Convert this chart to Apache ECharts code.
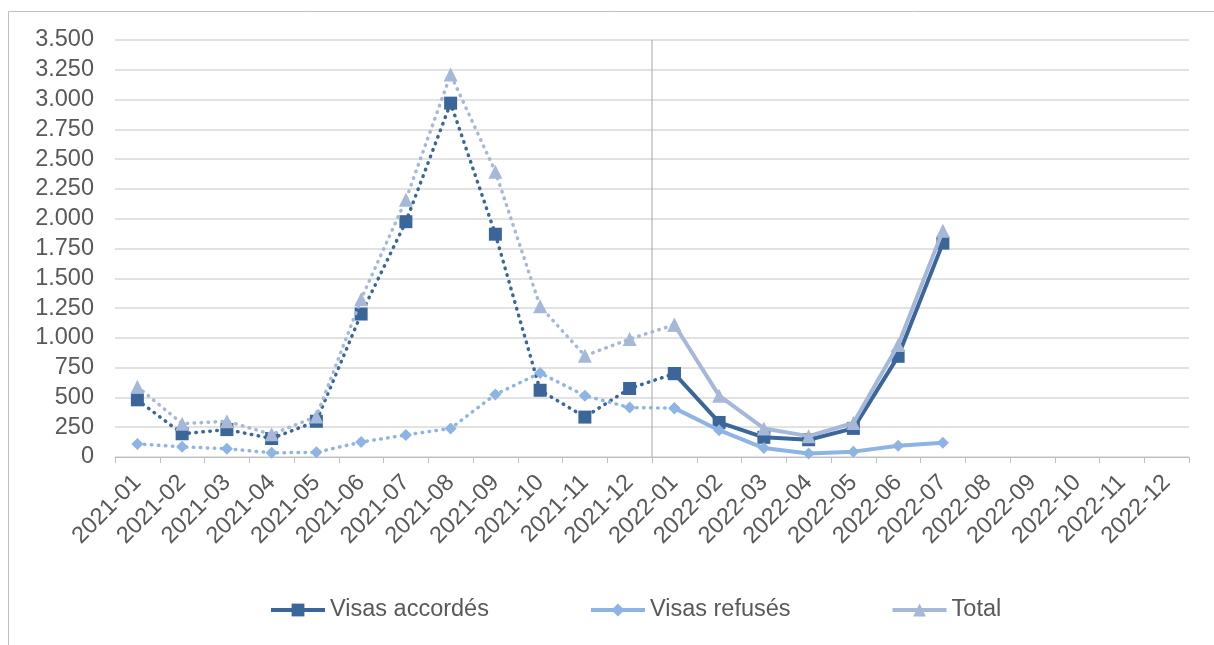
<!DOCTYPE html>
<html>
<head>
<meta charset="utf-8">
<script src="https://cdn.jsdelivr.net/npm/echarts@6/dist/echarts.min.js"></script>
<style>
html,body{margin:0;padding:0;background:#fff;}
#chart{width:1214px;height:645px;}
</style>
</head>
<body>
<div id="chart"></div>
<script>
const categories = ['2021-01','2021-02','2021-03','2021-04','2021-05','2021-06','2021-07','2021-08','2021-09','2021-10','2021-11','2021-12',
  '2022-01','2022-02','2022-03','2022-04','2022-05','2022-06','2022-07','2022-08','2022-09','2022-10','2022-11','2022-12'];
const visasAccordes = [480,195,230,155,300,1200,1975,2970,1870,560,335,575, 700,290,165,145,240,845,1795,null,null,null,null,null];
const visasRefuses  = [110,85,70,35,40,125,185,240,525,705,515,415, 410,225,75,30,45,95,120,null,null,null,null,null];
const total         = [590,280,300,190,340,1325,2160,3210,2395,1265,850,990, 1110,515,240,175,285,940,1900,null,null,null,null,null];
const seriesNames = ['Visas accordés','Visas refusés','Total'];
const yTicks = [0,250,500,750,1000,1250,1500,1750,2000,2250,2500,2750,3000,3250,3500];
const splitIndex = 12; // first month of 2022

const colors = ['#3A6699','#8DB4E2','#A6B8D8'];
const symbols = ['rect','diamond','triangle'];
const symbolSizes = [13,12,14];
const dataSets = [visasAccordes, visasRefuses, total];
const FONT = 'Liberation Sans';

function part(arr, from, to){
  return arr.map((v,i)=> (i>=from && i<=to) ? v : null);
}

const series = [];
dataSets.forEach((d,k)=>{
  series.push({
    name: seriesNames[k], type:'line', data: part(d, splitIndex, d.length-1),
    symbol: symbols[k], symbolSize: symbolSizes[k], showSymbol:true,
    itemStyle:{color:colors[k]},
    lineStyle:{color:colors[k], width:4},
    z: 3+k, animation:false
  });
});
dataSets.forEach((d,k)=>{
  series.push({
    name: seriesNames[k], type:'line', data: part(d, 0, splitIndex),
    symbol: symbols[k], symbolSize: symbolSizes[k],
    itemStyle:{color:colors[k]},
    lineStyle:{color:colors[k], width:3.5, type:[0.5,6.5], cap:'round'},
    z: 3+k, animation:false
  });
});
// vertical separator between 2021 and 2022, drawn on a hidden value x-axis spanning the category boundaries
series.push({
  name:'sep', type:'line', xAxisIndex:1, data:[[splitIndex, yTicks[0]],[splitIndex, yTicks[yTicks.length-1]]],
  symbol:'none', lineStyle:{color:'#A6A6A6', width:1}, z:1, silent:true, animation:false
});

const chart = echarts.init(document.getElementById('chart'));
chart.setOption({
  animation:false,
  backgroundColor:'#fff',
  graphic:[{type:'rect', shape:{x:8.5,y:11.5,width:1230,height:660}, style:{fill:'none', stroke:'#BFBFBF', lineWidth:1}, silent:true}],
  grid:{left:115, right:25, top:40, bottom:188, containLabel:false},
  legend:{
    data: seriesNames, top:593, left:264, itemWidth:54, itemHeight:16, itemGap:100,
    lineStyle:{width:4},
    textStyle:{fontFamily:FONT, fontSize:23.5, color:'#595959'}
  },
  xAxis:[{
    type:'category', data:categories, boundaryGap:true,
    axisLine:{lineStyle:{color:'#BFBFBF', width:1}},
    axisTick:{show:true, length:6, lineStyle:{color:'#BFBFBF'}},
    axisLabel:{rotate:45, fontFamily:FONT, fontSize:23.5, color:'#595959', margin:22, interval:0},
    splitLine:{show:false}
  },{
    type:'value', min:0, max:categories.length, show:false, splitLine:{show:false}
  }],
  yAxis:{
    type:'value', min:yTicks[0], max:yTicks[yTicks.length-1], interval:yTicks[1]-yTicks[0],
    axisLine:{show:false}, axisTick:{show:false},
    axisLabel:{fontFamily:FONT, fontSize:23.5, color:'#595959', margin:21,
      formatter:(v)=> String(v).replace(/\B(?=(\d{3})+(?!\d))/g,'.')},
    splitLine:{lineStyle:{color:'#D9D9D9', width:1.5}}
  },
  series: series
});
</script>
</body>
</html>
